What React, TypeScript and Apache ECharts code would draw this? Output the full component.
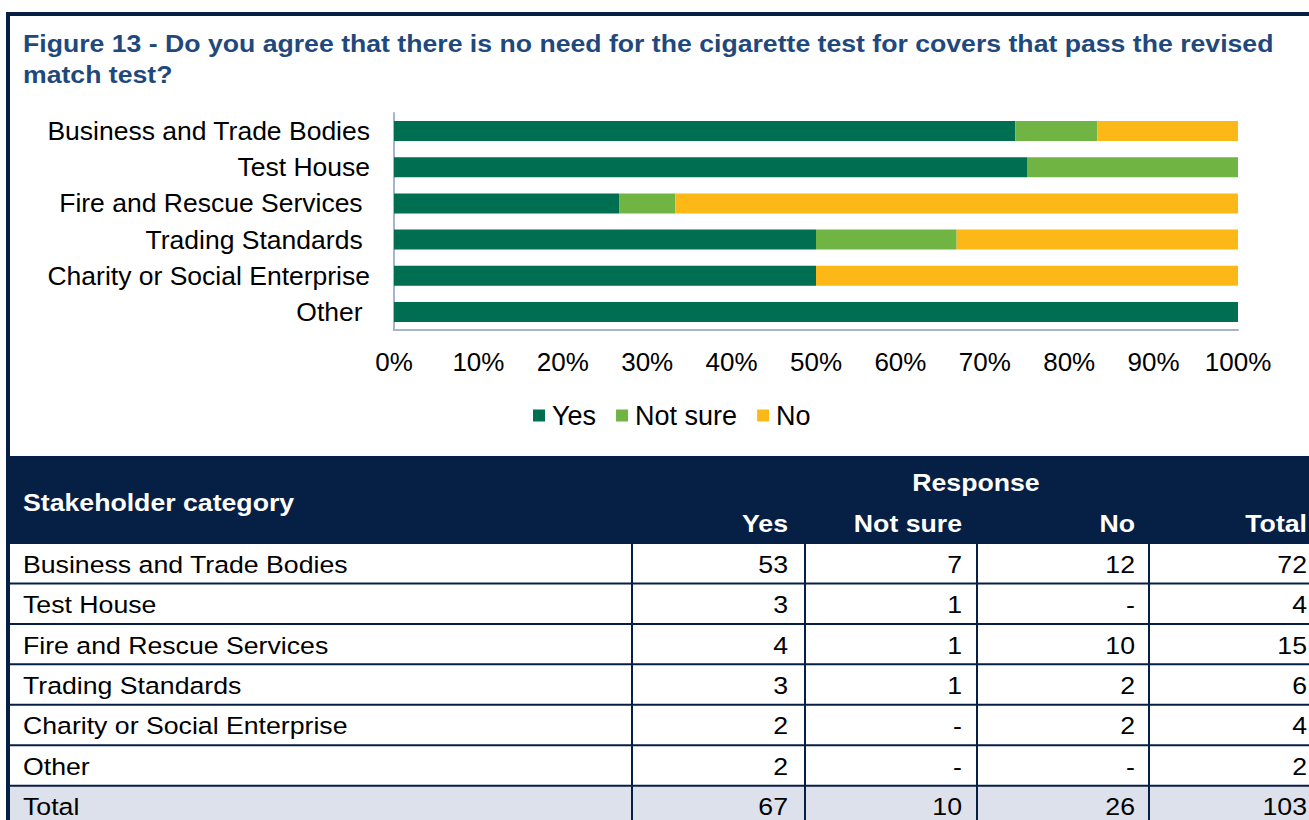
import React, { useEffect, useRef } from "react";
import * as echarts from "echarts";

const categories = [
  "Business and Trade Bodies",
  "Test House",
  "Fire and Rescue Services ",
  "Trading Standards ",
  "Charity or Social Enterprise",
  "Other ",
];
const tableCategories = [
  "Business and Trade Bodies",
  "Test House",
  "Fire and Rescue Services",
  "Trading Standards",
  "Charity or Social Enterprise",
  "Other",
  "Total",
];
const yesCounts = [53, 3, 4, 3, 2, 2];
const notSureCounts = [7, 1, 1, 1, 0, 0];
const noCounts = [12, 0, 10, 2, 2, 0];
const totalCounts = [72, 4, 15, 6, 4, 2];
const totalRow = [67, 10, 26, 103];
const seriesNames = ["Yes", "Not sure", "No"];
const tableHeaders = ["Yes", "Not sure", "No", "Total"];
const titleText =
  "Figure 13 - Do you agree that there is no need for the cigarette test for covers that pass the revised\nmatch test?";

const NAVY = "#061F45";
const FONT = "'Liberation Sans', Arial, sans-serif";

function pct(arr: number[]) {
  return arr.map((v, i) => (v / totalCounts[i]) * 100);
}

export default function App() {
  const ref = useRef<HTMLDivElement>(null);
  useEffect(() => {
    if (!ref.current) return;
    const chart = echarts.init(ref.current, undefined, { renderer: "svg" });

    const colRights = [788, 962, 1135, 1307];
    const colLines = [632, 805, 977, 1149];
    const headerTop = 456;
    const headerBottom = 543;
    const rowH = 40.45;
    const tableLeft = 8;
    const tableRight = 1330;
    const TS = 23.5;
    const TSX = 1.135;

    const fmt = (v: number) => (v === 0 ? "-" : String(v));
    const rows: string[][] = yesCounts.map((_, i) => [
      fmt(yesCounts[i]),
      fmt(notSureCounts[i]),
      fmt(noCounts[i]),
      fmt(totalCounts[i]),
    ]);
    rows.push(totalRow.map(fmt));

    const graphics: any[] = [];
    graphics.push({
      type: "rect",
      shape: { x: tableLeft, y: headerTop, width: tableRight - tableLeft, height: headerBottom - headerTop },
      style: { fill: NAVY },
      z: 1,
    });
    const totalTop = headerBottom + rowH * 6;
    graphics.push({
      type: "rect",
      shape: { x: tableLeft, y: totalTop, width: tableRight - tableLeft, height: 60 },
      style: { fill: "#DDE1EB" },
      z: 1,
    });
    graphics.push({
      type: "text",
      x: 23,
      y: 503,
      scaleX: TSX,
      style: { text: "Stakeholder category", fill: "#fff", font: `bold ${TS}px ${FONT}`, verticalAlign: "middle", textAlign: "left" },
      z: 3,
    });
    graphics.push({
      type: "text",
      x: 976,
      y: 483,
      scaleX: TSX,
      style: { text: "Response", fill: "#fff", font: `bold ${TS}px ${FONT}`, verticalAlign: "middle", textAlign: "center" },
      z: 3,
    });
    tableHeaders.forEach((h, j) => {
      graphics.push({
        type: "text",
        x: colRights[j],
        y: 524,
        scaleX: TSX,
        style: { text: h, fill: "#fff", font: `bold ${TS}px ${FONT}`, verticalAlign: "middle", textAlign: "right" },
        z: 3,
      });
    });
    rows.forEach((r, i) => {
      const cy = headerBottom + rowH * i + rowH / 2 + 1;
      graphics.push({
        type: "text",
        x: 23,
        y: cy,
        scaleX: TSX,
        style: { text: tableCategories[i], fill: "#000", font: `${TS}px ${FONT}`, verticalAlign: "middle", textAlign: "left" },
        z: 3,
      });
      r.forEach((v, j) => {
        graphics.push({
          type: "text",
          x: colRights[j],
          y: cy,
          scaleX: TSX,
          style: { text: v, fill: "#000", font: `${TS}px ${FONT}`, verticalAlign: "middle", textAlign: "right" },
          z: 3,
        });
      });
    });
    for (let i = 0; i <= 7; i++) {
      const y = headerBottom + rowH * i;
      graphics.push({
        type: "line",
        shape: { x1: tableLeft, y1: y, x2: tableRight, y2: y },
        style: { stroke: NAVY, lineWidth: 2 },
        z: 2,
      });
    }
    colLines.forEach((x) => {
      graphics.push({
        type: "line",
        shape: { x1: x, y1: headerBottom, x2: x, y2: 840 },
        style: { stroke: NAVY, lineWidth: 2 },
        z: 2,
      });
    });
    graphics.push({
      type: "rect",
      shape: { x: 8, y: 14, width: 1400, height: 900 },
      style: { fill: "none", stroke: NAVY, lineWidth: 4 },
      z: 4,
    });
    graphics.push({
      type: "text",
      x: 23,
      y: 28,
      scaleX: 1.11,
      style: {
        text: titleText,
        fill: "#1F497D",
        font: `bold 24px ${FONT}`,
        lineHeight: 31,
        textAlign: "left",
        verticalAlign: "top",
      },
      z: 3,
    });

    const colors = ["#006E50", "#70B443", "#FCB817"];
    const dataSets = [pct(yesCounts), pct(notSureCounts), pct(noCounts)];

    chart.setOption({
      animation: false,
      textStyle: { fontFamily: FONT },
      grid: { left: 394, right: 71, top: 113, height: 217, containLabel: false },
      legend: {
        data: seriesNames,
        left: 528,
        top: 397,
        itemWidth: 12,
        itemHeight: 12,
        itemGap: 20,
        icon: "rect",
        textStyle: { fontSize: 27, color: "#000", fontFamily: FONT, padding: [0, 0, 0, 2] },
      },
      xAxis: {
        type: "value",
        min: 0,
        max: 100,
        interval: 10,
        axisLine: { show: true, lineStyle: { color: "#A9B2CE", width: 2 } },
        axisTick: { show: false },
        splitLine: { show: false },
        axisLabel: { formatter: "{value}%", fontSize: 26, color: "#000", margin: 19, fontFamily: FONT },
      },
      yAxis: {
        type: "category",
        data: categories,
        inverse: true,
        axisLine: { show: true, lineStyle: { color: "#A9B2CE", width: 2 } },
        axisTick: { show: false },
        axisLabel: { fontSize: 26.5, color: "#000", margin: 24, fontFamily: FONT },
      },
      series: seriesNames.map((name, k) => ({
        name,
        type: "bar",
        stack: "total",
        barWidth: 20,
        data: dataSets[k],
        itemStyle: { color: colors[k] },
      })),
      graphic: graphics,
    });
    return () => chart.dispose();
  }, []);
  return (
    <div
      ref={ref}
      style={{ position: "absolute", left: 0, top: 0, width: 1309, height: 820, background: "#fff" }}
    />
  );
}
